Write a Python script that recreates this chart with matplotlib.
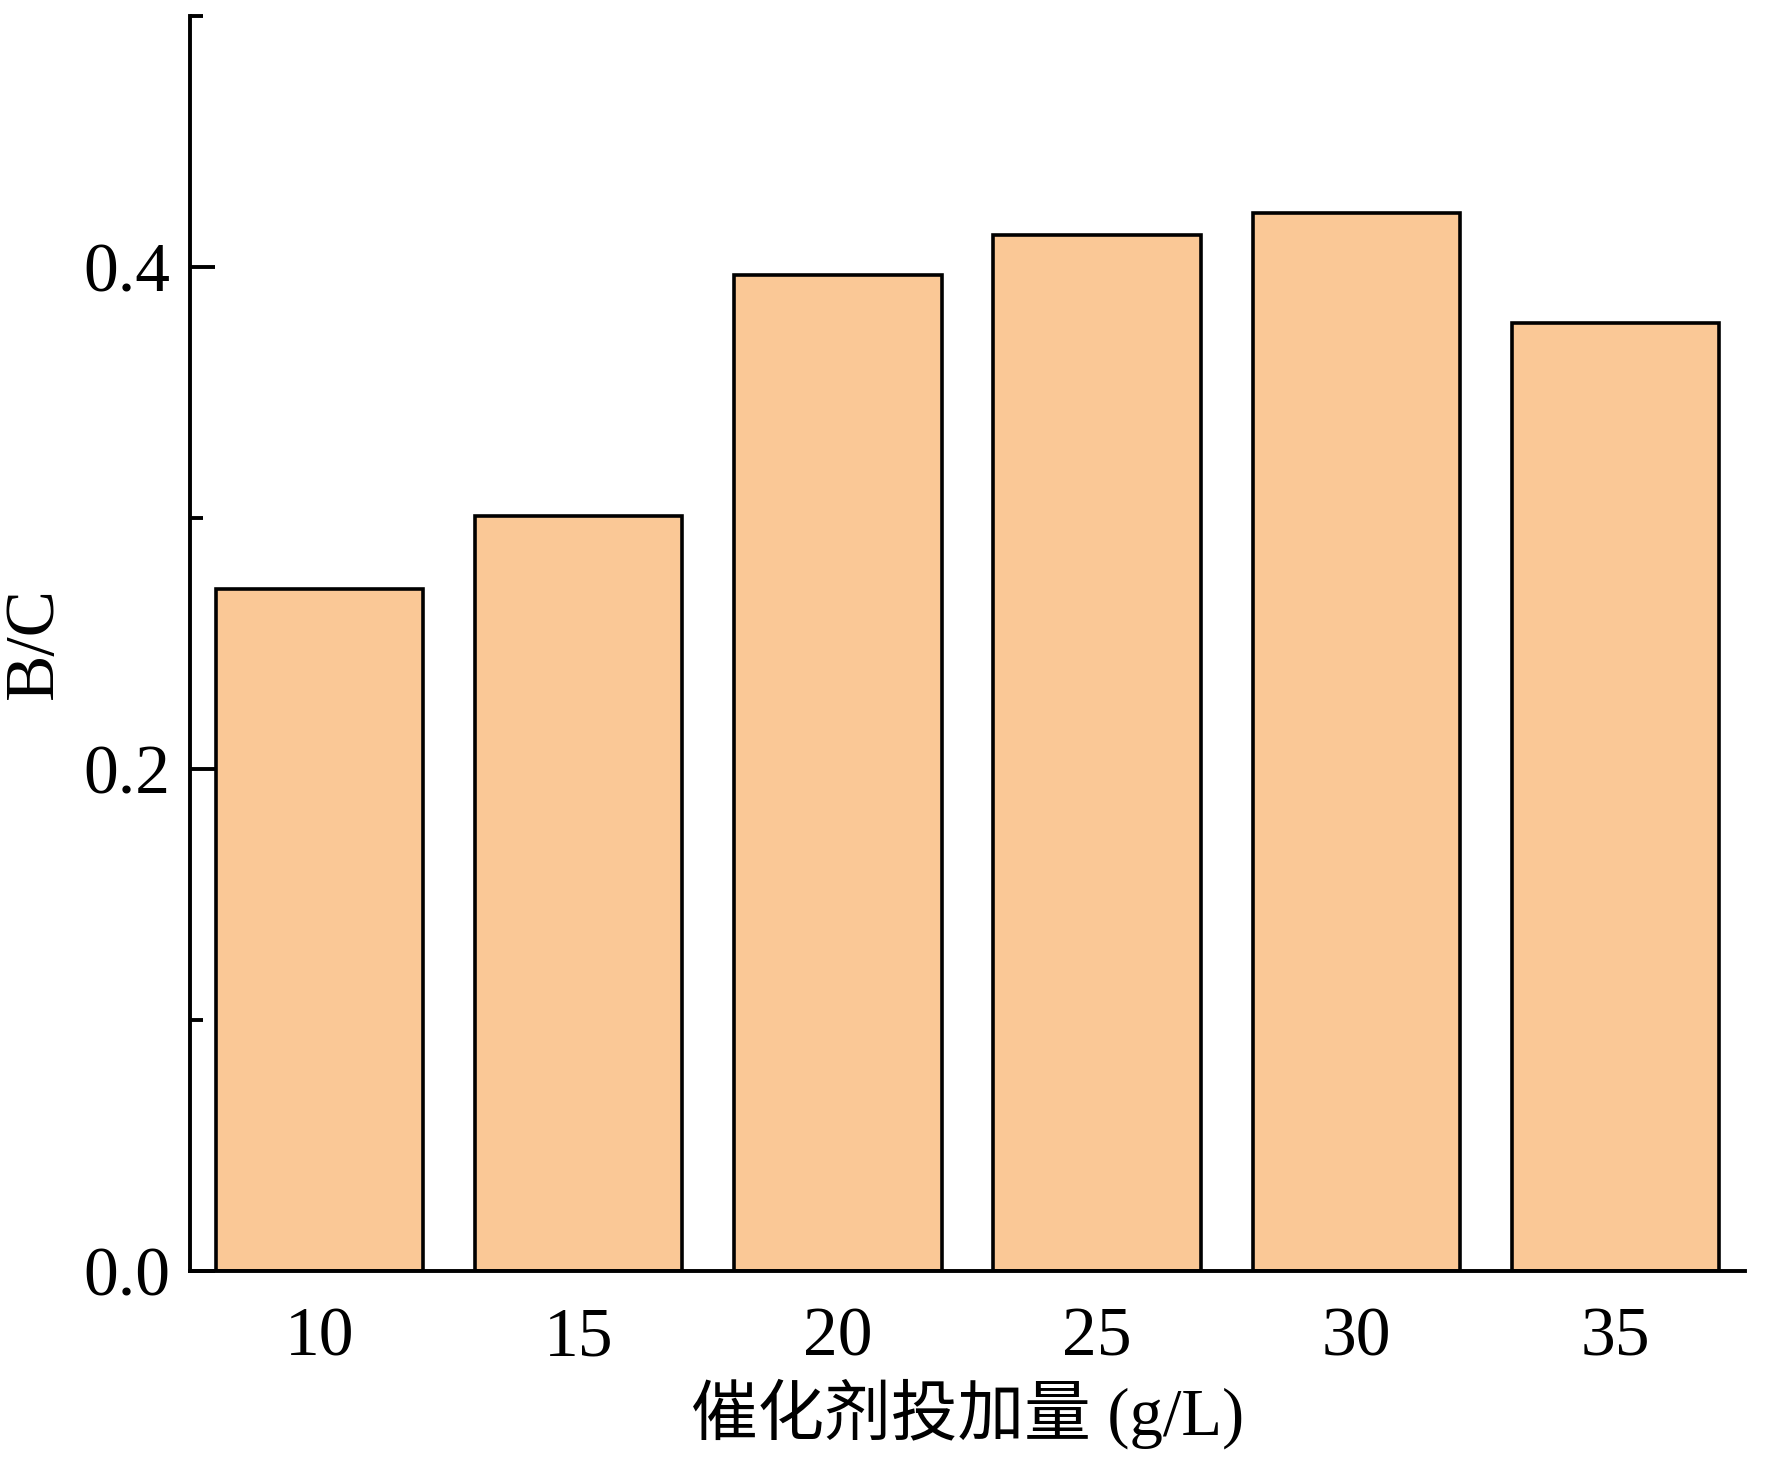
import numpy as np
import matplotlib
matplotlib.use('Agg')
import matplotlib.pyplot as plt
from matplotlib.ticker import MultipleLocator

plt.rcParams['font.family'] = ['Liberation Serif', 'Noto Sans CJK SC']

dose = ['10', '15', '20', '25', '30', '35']
bc = [0.2715, 0.3007, 0.3969, 0.4126, 0.4216, 0.3775]

fig = plt.figure(figsize=(17.72, 14.64), dpi=100)
ax = fig.add_axes([0.107, 0.132, 0.878, 0.857])

x = np.arange(len(dose))
ax.bar(x, bc, width=0.8, color='#FAC896', edgecolor='black', linewidth=2.6)

ax.set_xlim(-0.5, 5.5)
ax.set_ylim(0, 0.5)
ax.set_xticks(x)
ax.set_xticklabels(dose)
ax.set_yticks([0.0, 0.2, 0.4])
ax.set_yticklabels(['0.0', '0.2', '0.4'])
ax.yaxis.set_minor_locator(MultipleLocator(0.1))

for s in ['top', 'right']:
    ax.spines[s].set_visible(False)
for s in ['left', 'bottom']:
    ax.spines[s].set_linewidth(2.8)

ax.tick_params(axis='y', which='major', direction='in', length=18, width=2.8,
               labelsize=50, pad=14)
ax.tick_params(axis='y', which='minor', direction='in', length=9, width=2.8)
ax.tick_params(axis='x', length=0, labelsize=50, pad=26)

ax.set_xlabel('催化剂投加量 (g/L)', fontsize=48, labelpad=6)
ax.set_ylabel('B/C', fontsize=50, labelpad=12)

fig.savefig('out.png', dpi=100)
